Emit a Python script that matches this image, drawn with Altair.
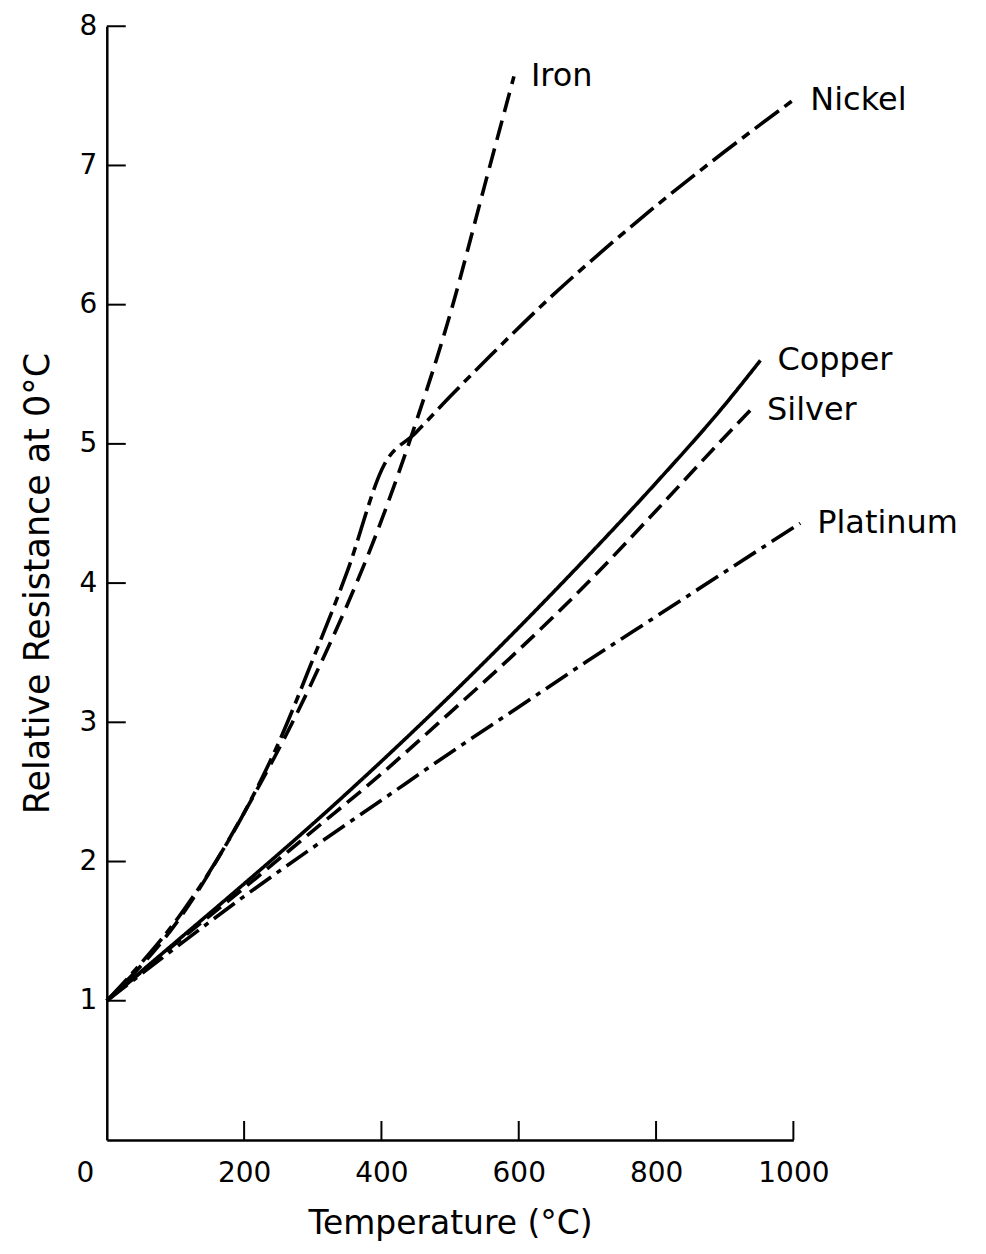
import altair as alt
import pandas as pd

# ---- data ----
metals = ["Iron", "Nickel", "Copper", "Silver", "Platinum"]

temp_iron = [0, 100, 200, 300, 400, 450, 500, 550, 593]
res_iron = [1.0, 1.55, 2.35, 3.30, 4.45, 5.15, 5.93, 6.85, 7.64]

temp_nickel = [0, 50, 100, 150, 200, 250, 300, 350, 404, 450, 500, 560, 650, 730, 800, 900, 1000]
res_nickel = [1.0, 1.27, 1.57, 1.93, 2.35, 2.85, 3.45, 4.08, 4.85, 5.08, 5.34, 5.64, 6.07, 6.42, 6.71, 7.10, 7.47]

temp_copper = [0, 100, 200, 300, 400, 500, 600, 700, 800, 900, 952]
res_copper = [1.0, 1.42, 1.84, 2.27, 2.72, 3.19, 3.68, 4.19, 4.72, 5.28, 5.60]

temp_silver = [0, 100, 200, 300, 400, 500, 600, 700, 800, 900, 937]
res_silver = [1.0, 1.41, 1.81, 2.22, 2.63, 3.07, 3.52, 4.00, 4.52, 5.05, 5.24]

temp_platinum = [0, 100, 200, 300, 400, 500, 600, 700, 800, 900, 1010]
res_platinum = [1.0, 1.38, 1.75, 2.10, 2.44, 2.78, 3.11, 3.44, 3.76, 4.08, 4.43]

x_tick_labels = [0, 200, 400, 600, 800, 1000]
y_tick_labels = [1, 2, 3, 4, 5, 6, 7, 8]

# ---- styles ----
dash_styles = [[20, 9], [30, 7, 9, 7], [1, 0], [18, 8], [26, 7, 5, 7]]
FONT = "DejaVu Sans"
W, H = 688, 1116
TICK_LEN = 19

series = {
    "Iron": (temp_iron, res_iron),
    "Nickel": (temp_nickel, res_nickel),
    "Copper": (temp_copper, res_copper),
    "Silver": (temp_silver, res_silver),
    "Platinum": (temp_platinum, res_platinum),
}

rows = []
for m in metals:
    ts, rs = series[m]
    for t, r in zip(ts, rs):
        rows.append({"Metal": m, "Temperature": t, "Resistance": r})
df = pd.DataFrame(rows)

labels_df = pd.DataFrame(
    [{"Metal": m, "Temperature": series[m][0][-1], "Resistance": series[m][1][-1]} for m in metals]
)
xt_df = pd.DataFrame({"Temperature": x_tick_labels[1:]})
yt_df = pd.DataFrame({"Resistance": y_tick_labels})

x_scale = alt.Scale(domain=[0, 1000], nice=False, zero=False)
y_scale = alt.Scale(domain=[0, 8], nice=False)

lines = alt.Chart(df).mark_line(strokeWidth=3.6, color="black", interpolate="monotone").encode(
    x=alt.X(
        "Temperature:Q",
        scale=x_scale,
        axis=alt.Axis(
            values=x_tick_labels,
            format="d",
            title="Temperature (°C)",
            labelFlush=False,
            labelPadding=20,
            titlePadding=20,
            titleFontSize=33,
            labelOffset={"condition": {"test": "datum.value === 0", "value": -22}, "value": 0},
        ),
    ),
    y=alt.Y(
        "Resistance:Q",
        scale=y_scale,
        axis=alt.Axis(
            values=y_tick_labels,
            format="d",
            title="Relative Resistance at 0°C",
            labelFlush=False,
            labelPadding=10,
            titlePadding=24,
            titleFontSize=35,
        ),
    ),
    strokeDash=alt.StrokeDash(
        "Metal:N", scale=alt.Scale(domain=metals, range=dash_styles), legend=None
    ),
)

texts = alt.Chart(labels_df).mark_text(
    align="left", baseline="middle", dx=17, font=FONT, fontSize=32, color="black"
).encode(
    x=alt.X("Temperature:Q", scale=x_scale),
    y=alt.Y("Resistance:Q", scale=y_scale),
    text="Metal:N",
)

xticks = alt.Chart(xt_df).mark_rule(color="black", strokeWidth=2).encode(
    x=alt.X("Temperature:Q", scale=x_scale),
    y=alt.value(H),
    y2=alt.value(H - TICK_LEN),
)

yticks = alt.Chart(yt_df).mark_rule(color="black", strokeWidth=2).encode(
    y=alt.Y("Resistance:Q", scale=y_scale),
    x=alt.value(0),
    x2=alt.value(TICK_LEN),
)

chart = (
    alt.layer(lines, texts, xticks, yticks)
    .properties(
        width=W,
        height=H,
        padding={"left": 99, "top": 17, "right": 185, "bottom": 110},
        autosize=alt.AutoSizeParams(type="none"),
        background="white",
    )
    .configure_view(stroke=None)
    .configure_axis(
        grid=False,
        ticks=False,
        tickSize=0,
        domainColor="black",
        domainWidth=2.5,
        labelFont=FONT,
        labelFontSize=28,
        labelColor="black",
        titleFont=FONT,
        titleFontWeight="normal",
        titleColor="black",
    )
)

chart.save("out.html", embed_options={"renderer": "svg", "actions": False})
